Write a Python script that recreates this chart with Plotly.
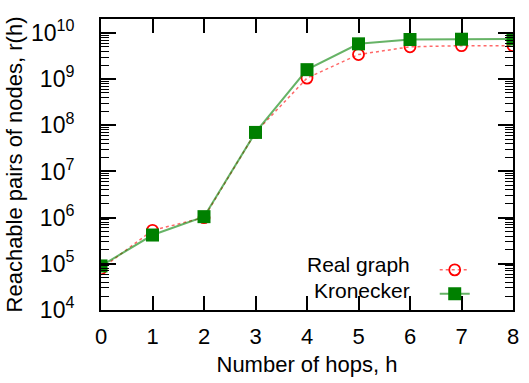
import plotly.graph_objects as go

hops = [0, 1, 2, 3, 4, 5, 6, 7, 8]
real_graph = [7.8e4, 5.3e5, 1.0e6, 7.0e7, 1.05e9, 3.4e9, 5.0e9, 5.3e9, 5.3e9]
kronecker = [9.0e4, 4.2e5, 1.05e6, 7.0e7, 1.6e9, 5.8e9, 7.2e9, 7.3e9, 7.4e9]
series_names = ["Real graph", "Kronecker"]
x_ticks = [0, 1, 2, 3, 4, 5, 6, 7, 8]
y_tickvals = [1e4, 1e5, 1e6, 1e7, 1e8, 1e9, 1e10]
y_ticktext = ["10<sup>4</sup>", "10<sup>5</sup>", "10<sup>6</sup>", "10<sup>7</sup>",
              "10<sup>8</sup>", "10<sup>9</sup>", "10<sup>10</sup>"]

FONT = "Liberation Sans, Arial, sans-serif"

fig = go.Figure()
fig.add_trace(go.Scatter(
    x=hops, y=real_graph, mode="lines+markers", name=" ",
    line=dict(color="rgba(255,40,40,0.7)", width=1.5, dash="dot"),
    marker=dict(symbol="circle-open", size=11, color="red", line=dict(width=1.8, color="red")),
))
fig.add_trace(go.Scatter(
    x=hops, y=kronecker, mode="lines+markers", name="  ",
    line=dict(color="rgba(0,128,0,0.6)", width=2),
    marker=dict(symbol="square", size=13, color="#008000"),
))

axis_common = dict(
    showline=True, linecolor="black", linewidth=2, mirror="ticks",
    ticks="inside", tickcolor="black", tickwidth=1.5, showgrid=False, zeroline=False,
    title_font=dict(family=FONT, size=22, color="black"),
)

fig.update_xaxes(
    range=[0, 8], tickvals=x_ticks, ticklen=14, ticklabelstandoff=6,
    tickfont=dict(family=FONT, size=22, color="black"),
    title_text="Number of hops, h", title_standoff=8, **axis_common,
)
fig.update_yaxes(
    type="log", range=[4, 10.301], tickvals=y_tickvals, ticktext=y_ticktext,
    ticklen=15, ticklabelstandoff=20,
    tickfont=dict(family=FONT, size=23, color="black"),
    minor=dict(ticks="inside", ticklen=8, tickcolor="black", tickwidth=1.2, dtick="D1", showgrid=False),
    title_text="Reachable pairs of nodes, r(h)", title_standoff=2, **axis_common,
)

# legend text on the left of the samples, like the original
fig.add_annotation(text=series_names[0], xref="paper", yref="paper", x=0.7536, y=0.156,
                   xanchor="right", yanchor="middle", showarrow=False, borderpad=0,
                   font=dict(family=FONT, size=21, color="black"))
fig.add_annotation(text=series_names[1], xref="paper", yref="paper", x=0.7536, y=0.066,
                   xanchor="right", yanchor="middle", showarrow=False, borderpad=0,
                   font=dict(family=FONT, size=21, color="black"))

fig.update_layout(
    width=529, height=383,
    margin=dict(l=101, r=10, t=19, b=69),
    paper_bgcolor="white", plot_bgcolor="white",
    showlegend=True,
    legend=dict(x=0.81, y=0.196, xanchor="left", yanchor="top", bgcolor="rgba(0,0,0,0)",
                font=dict(family=FONT, size=16), tracegroupgap=0, itemwidth=30),
)

fig.write_html("out.html")
